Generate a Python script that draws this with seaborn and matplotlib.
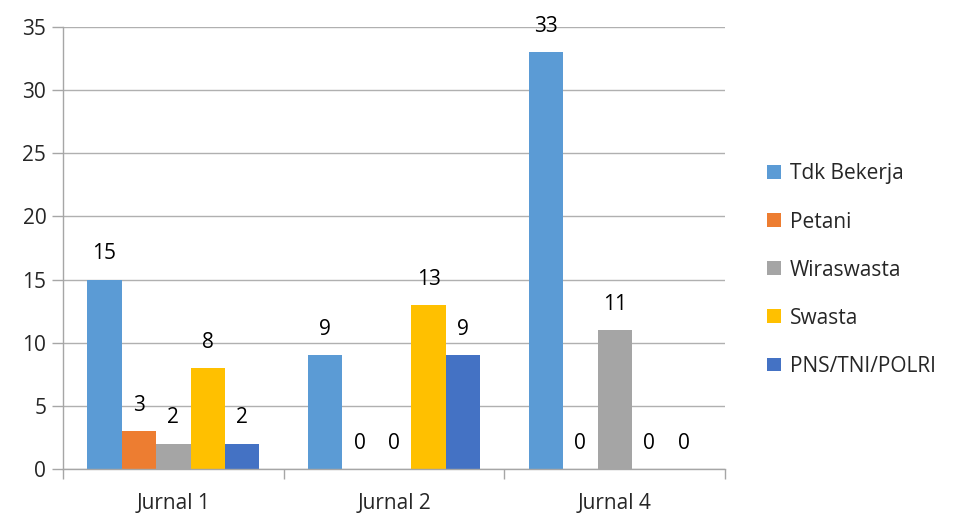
import matplotlib
matplotlib.use("Agg")
import matplotlib.pyplot as plt
import seaborn as sns
import pandas as pd

# data
categories = ["Jurnal 1", "Jurnal 2", "Jurnal 4"]
series = ["Tdk Bekerja", "Petani", "Wiraswasta", "Swasta", "PNS/TNI/POLRI"]
tdk_bekerja = [15, 9, 33]
petani = [3, 0, 0]
wiraswasta = [2, 0, 11]
swasta = [8, 13, 0]
pns_tni_polri = [2, 9, 0]
colors = ["#5B9BD5", "#ED7D31", "#A5A5A5", "#FFC000", "#4472C4"]

values = [tdk_bekerja, petani, wiraswasta, swasta, pns_tni_polri]
rows = []
for name, vals in zip(series, values):
    for cat, v in zip(categories, vals):
        rows.append({"Jurnal": cat, "Pekerjaan": name, "Jumlah": v})
df = pd.DataFrame(rows)

sns.set_theme(style="white")
plt.rcParams["font.family"] = ["Open Sans", "DejaVu Sans"]

fig = plt.figure(figsize=(9.57, 5.14), dpi=100)
ax = fig.add_axes([0.0658, 0.0875, 0.692, 0.86])

sns.barplot(data=df, x="Jurnal", y="Jumlah", hue="Pekerjaan",
            order=categories, hue_order=series, palette=colors,
            width=0.78, saturation=1, linewidth=0, ax=ax, legend=True)

for cont in ax.containers:
    ax.bar_label(cont, labels=[f"{int(b.get_height())}" for b in cont],
                 padding=11, fontsize=15, color="black")

ax.set_ylim(0, 35)
ax.set_yticks(range(0, 36, 5))
ax.set_xlim(-0.5, 2.5)
ax.set_xlabel("")
ax.set_ylabel("")
ax.yaxis.grid(True, color="#B0B0B0", linewidth=1)
ax.set_axisbelow(True)

for s in ["top", "right"]:
    ax.spines[s].set_visible(False)
for s in ["left", "bottom"]:
    ax.spines[s].set_color("#A6A6A6")
    ax.spines[s].set_linewidth(1)

ax.set_xticks([-0.5, 0.5, 1.5, 2.5], minor=True)
ax.tick_params(axis="x", which="major", length=0, labelsize=15, pad=17)
ax.tick_params(axis="x", which="minor", length=7, color="#A6A6A6", width=1,
               direction="out", bottom=True)
ax.tick_params(axis="y", length=8, color="#A6A6A6", width=1, labelsize=15,
               left=True, direction="out", pad=4)

ax.legend(loc="center left", bbox_to_anchor=(1.035, 0.45), frameon=False,
          fontsize=15, handlelength=0.65, handleheight=0.65,
          labelspacing=1.3, handletextpad=0.45)

fig.savefig("out.png", dpi=100)
